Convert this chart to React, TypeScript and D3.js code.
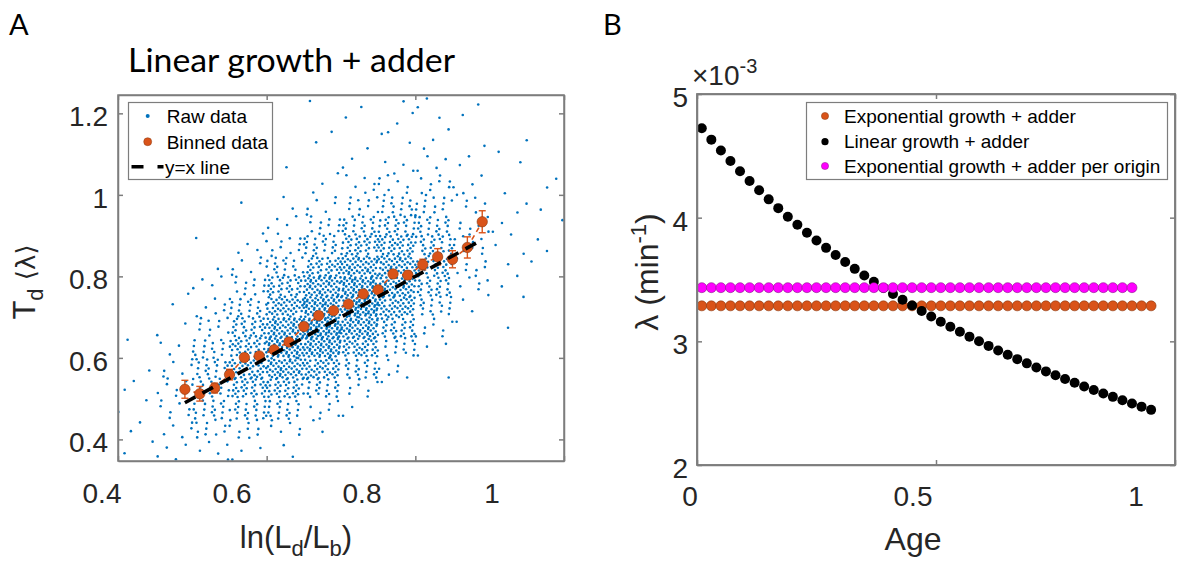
import React, { useMemo, useRef, useEffect } from 'react';
import * as d3 from 'd3';

// ---------------- Panel A data ----------------
// Raw data, read as a density grid: counts of points per 0.05 x 0.05 cell
const rawXBinLow = [0.40, 0.45, 0.50, 0.55, 0.60, 0.65, 0.70, 0.75, 0.80, 0.85, 0.90, 0.95];
const rawYBinLow = [1.20, 1.15, 1.10, 1.05, 1.00, 0.95, 0.90, 0.85, 0.80, 0.75, 0.70, 0.65, 0.60, 0.55, 0.50, 0.45, 0.40, 0.35];
const rawCounts = [
  [0, 0, 0, 0, 0, 1, 1, 2, 2, 1, 0, 0],
  [0, 0, 0, 0, 0, 1, 1, 2, 2, 1, 0, 0],
  [0, 0, 0, 0, 0, 1, 1, 2, 2, 1, 2, 0],
  [0, 0, 0, 0, 1, 1, 2, 4, 4, 2, 1, 0],
  [0, 0, 0, 0, 1, 2, 6, 7, 8, 4, 1, 2],
  [0, 0, 0, 1, 2, 6, 10, 16, 14, 6, 2, 1],
  [0, 0, 0, 1, 5, 12, 22, 27, 21, 8, 3, 1],
  [0, 0, 1, 4, 9, 23, 36, 40, 27, 9, 2, 2],
  [0, 0, 1, 6, 19, 38, 55, 52, 30, 8, 2, 1],
  [0, 1, 4, 12, 33, 57, 68, 54, 26, 6, 1, 0],
  [0, 1, 6, 20, 47, 71, 74, 47, 17, 2, 1, 0],
  [0, 2, 10, 30, 60, 77, 63, 30, 8, 1, 1, 0],
  [1, 3, 16, 39, 64, 65, 42, 15, 3, 0, 0, 0],
  [1, 6, 20, 41, 55, 44, 21, 6, 1, 0, 0, 0],
  [2, 7, 21, 35, 37, 21, 7, 1, 0, 0, 0, 0],
  [2, 7, 18, 22, 18, 7, 2, 0, 0, 0, 0, 0],
  [2, 5, 10, 10, 6, 2, 0, 0, 0, 0, 0, 0],
  [2, 4, 5, 3, 2, 0, 0, 0, 0, 0, 0, 0],
];
const binnedX = [0.49, 0.51, 0.53, 0.55, 0.57, 0.59, 0.61, 0.63, 0.65, 0.67, 0.69, 0.71, 0.73, 0.75, 0.77, 0.79, 0.81, 0.83, 0.85, 0.87, 0.89];
const binnedY = [0.523, 0.512, 0.526, 0.559, 0.601, 0.605, 0.620, 0.639, 0.677, 0.704, 0.716, 0.732, 0.757, 0.767, 0.806, 0.803, 0.829, 0.848, 0.842, 0.871, 0.934];
const binnedErr = [0.022, 0.018, 0.012, 0.013, 0.009, 0.008, 0.008, 0.008, 0.008, 0.008, 0.008, 0.008, 0.009, 0.009, 0.010, 0.010, 0.013, 0.020, 0.021, 0.026, 0.027];
const yxLine = [0.49, 0.89];
const xTicksA = [0.4, 0.6, 0.8, 1.0];
const xTickLabelsA = ['0.4', '0.6', '0.8', '1'];
const yTicksA = [0.4, 0.6, 0.8, 1.0, 1.2];
const yTickLabelsA = ['0.4', '0.6', '0.8', '1', '1.2'];

// ---------------- Panel B data (units of 1e-3 min^-1) ----------------
const ageFull = [0.01, 0.03, 0.05, 0.07, 0.09, 0.11, 0.13, 0.15, 0.17, 0.19, 0.21, 0.23, 0.25, 0.27, 0.29, 0.31, 0.33, 0.35, 0.37, 0.39, 0.41, 0.43, 0.45, 0.47, 0.49, 0.51, 0.53, 0.55, 0.57, 0.59, 0.61, 0.63, 0.65, 0.67, 0.69, 0.71, 0.73, 0.75, 0.77, 0.79, 0.81, 0.83, 0.85, 0.87, 0.89, 0.91, 0.93, 0.95];
const lambdaExp = [3.287, 3.287, 3.287, 3.287, 3.287, 3.287, 3.287, 3.287, 3.287, 3.287, 3.287, 3.287, 3.287, 3.287, 3.287, 3.287, 3.287, 3.287, 3.287, 3.287, 3.287, 3.287, 3.287, 3.287, 3.287, 3.287, 3.287, 3.287, 3.287, 3.287, 3.287, 3.287, 3.287, 3.287, 3.287, 3.287, 3.287, 3.287, 3.287, 3.287, 3.287, 3.287, 3.287, 3.287, 3.287, 3.287, 3.287, 3.287];
const lambdaLinear = [4.723, 4.631, 4.543, 4.458, 4.376, 4.297, 4.221, 4.148, 4.077, 4.008, 3.942, 3.878, 3.816, 3.756, 3.698, 3.641, 3.586, 3.533, 3.482, 3.432, 3.383, 3.336, 3.290, 3.245, 3.201, 3.159, 3.118, 3.077, 3.038, 3.000, 2.963, 2.926, 2.891, 2.856, 2.822, 2.789, 2.757, 2.726, 2.695, 2.665, 2.635, 2.607, 2.578, 2.551, 2.524, 2.497, 2.472, 2.446];
const ageOrigin = [0.01, 0.03, 0.05, 0.07, 0.09, 0.11, 0.13, 0.15, 0.17, 0.19, 0.21, 0.23, 0.25, 0.27, 0.29, 0.31, 0.33, 0.35, 0.37, 0.39, 0.41, 0.43, 0.45, 0.47, 0.49, 0.51, 0.53, 0.55, 0.57, 0.59, 0.61, 0.63, 0.65, 0.67, 0.69, 0.71, 0.73, 0.75, 0.77, 0.79, 0.81, 0.83, 0.85, 0.87, 0.89, 0.91];
const lambdaOrigin = [3.434, 3.434, 3.434, 3.434, 3.434, 3.434, 3.434, 3.434, 3.434, 3.434, 3.434, 3.434, 3.434, 3.434, 3.434, 3.434, 3.434, 3.434, 3.434, 3.434, 3.434, 3.434, 3.434, 3.434, 3.434, 3.434, 3.434, 3.434, 3.434, 3.434, 3.434, 3.434, 3.434, 3.434, 3.434, 3.434, 3.434, 3.434, 3.434, 3.434, 3.434, 3.434, 3.434, 3.434, 3.434, 3.434];
const xTicksB = [0, 0.5, 1];
const xTickLabelsB = ['0', '0.5', '1'];
const yTicksB = [2, 3, 4, 5];
const yTickLabelsB = ['2', '3', '4', '5'];
const legendB = ['Exponential growth + adder', 'Linear growth + adder', 'Exponential growth + adder per origin'];

const FONT = "'Liberation Sans', Arial, Helvetica, sans-serif";
const TFONT = "Lato, 'Open Sans', sans-serif";
const TXT = '#262626';
const AX = '#7d7d7d';
const BLUE = '#0072BD';
const ORANGE = '#D95319';
const ORANGE_EDGE = '#8a3a12';
const MAGENTA = '#FF00FF';
const MAGENTA_EDGE = '#8a1a8a';

function frac(v: number) {
  return v - Math.floor(v);
}

// Panel A scales
const xA = d3.scaleLinear().domain([0.4, 1]).range([118, 564]);
const yA = d3.scaleLinear().domain([0.347, 1.245]).range([461, 95]);
const xLabA = d3.scaleLinear().domain([0.4, 1]).range([102, 492]);
// Panel B scales
const xB = d3.scaleLinear().domain([0, 1]).range([697, 1175]);
const yB = d3.scaleLinear().domain([2, 5]).range([465, 94]);
const xLabB = d3.scaleLinear().domain([0, 1]).range([690, 1136]);

function drawBox(
  g: d3.Selection<SVGGElement, unknown, null, undefined>,
  x: d3.ScaleLinear<number, number>,
  y: d3.ScaleLinear<number, number>,
  xt: number[],
  yt: number[]
) {
  const [x0, x1] = x.range();
  const [yb, ytop] = y.range();
  const style = (sel: d3.Selection<SVGGElement, unknown, null, undefined>) => {
    sel.selectAll('path').attr('stroke', AX).attr('stroke-width', 1.5);
    sel.selectAll('line').attr('stroke', AX).attr('stroke-width', 1.5);
    sel.selectAll('text').remove();
  };
  g.selectAll('*').remove();
  g.append('g').attr('transform', `translate(0,${yb})`).call(d3.axisBottom(x).tickValues(xt).tickSize(-5).tickSizeOuter(0)).call(style);
  g.append('g').attr('transform', `translate(0,${ytop})`).call(d3.axisTop(x).tickValues(xt).tickSize(-5).tickSizeOuter(0)).call(style);
  g.append('g').attr('transform', `translate(${x0},0)`).call(d3.axisLeft(y).tickValues(yt).tickSize(-5).tickSizeOuter(0)).call(style);
  g.append('g').attr('transform', `translate(${x1},0)`).call(d3.axisRight(y).tickValues(yt).tickSize(-5).tickSizeOuter(0)).call(style);
  g.append('rect')
    .attr('x', x0)
    .attr('y', ytop)
    .attr('width', x1 - x0)
    .attr('height', yb - ytop)
    .attr('fill', 'transparent')
    .attr('stroke', AX)
    .attr('stroke-width', 1.5);
}

export default function App() {
  const boxA = useRef<SVGGElement>(null);
  const boxB = useRef<SVGGElement>(null);

  useEffect(() => {
    if (boxA.current) drawBox(d3.select(boxA.current), xA, yA, xTicksA, yTicksA);
    if (boxB.current) drawBox(d3.select(boxB.current), xB, yB, xTicksB, yTicksB);
  }, []);

  const rawPoints = useMemo(() => {
    const pts: [number, number][] = [];
    rawCounts.forEach((row, r) => {
      row.forEach((n, c) => {
        const id = r * 12 + c;
        const su = frac(0.5 + id * 0.3819660113);
        const sv = frac(0.5 + id * 0.7071067812);
        for (let k = 0; k < n; k++) {
          const u = frac(su + (k + 1) * 0.7548776662);
          const v = frac(sv + (k + 1) * 0.5698402910);
          pts.push([rawXBinLow[c] + u * 0.05, rawYBinLow[r] + v * 0.05]);
        }
      });
    });
    return pts;
  }, []);

  const a0 = xA(0.4);
  const a1 = xA(1);
  const aB = yA(0.347);
  const aT = yA(1.245);
  const b0 = xB(0);
  const b1 = xB(1);
  const bB = yB(2);
  const bT = yB(5);

  return (
    <svg
      width={1183}
      height={565}
      style={{ position: 'absolute', left: 0, top: 0, background: '#fff' }}
      fontFamily={FONT}
    >
      <rect x={0} y={0} width={1183} height={565} fill="#fff" />
      <defs>
        <clipPath id="clipA">
          <rect x={a0} y={aT} width={a1 - a0} height={aB - aT} />
        </clipPath>
        <clipPath id="clipB">
          <rect x={b0} y={bT} width={b1 - b0} height={bB - bT} />
        </clipPath>
      </defs>

      {/* ---------- Panel A ---------- */}
      <text x={9} y={35} fontFamily={TFONT} fontSize={29} fill="#000">A</text>
      <text x={291.5} y={72} fontFamily={TFONT} fontSize={33} fill="#000" textAnchor="middle" textLength={327} lengthAdjust="spacingAndGlyphs">
        Linear growth + adder
      </text>

      <g clipPath="url(#clipA)">
        {rawPoints.map((p, i) => (
          <circle key={i} cx={xA(p[0])} cy={yA(p[1])} r={1.3} fill={BLUE} />
        ))}
      </g>

      {/* binned data: dashed connecting line, error bars, markers */}
      {binnedX.slice(1).map((x, i) => (
        <line
          key={'c' + i}
          x1={xA(binnedX[i])}
          y1={yA(binnedY[i])}
          x2={xA(x)}
          y2={yA(binnedY[i + 1])}
          stroke={ORANGE}
          strokeWidth={1.6}
          strokeDasharray="5 4"
        />
      ))}
      {binnedX.map((x, i) => {
        const cx = xA(x);
        const yt = yA(binnedY[i] + binnedErr[i]);
        const yb = yA(binnedY[i] - binnedErr[i]);
        return (
          <g key={'e' + i} stroke={ORANGE} strokeWidth={1.4}>
            <line x1={cx} x2={cx} y1={yt} y2={yb} />
            <line x1={cx - 3.5} x2={cx + 3.5} y1={yt} y2={yt} />
            <line x1={cx - 3.5} x2={cx + 3.5} y1={yb} y2={yb} />
          </g>
        );
      })}
      {binnedX.map((x, i) => (
        <circle key={'b' + i} cx={xA(x)} cy={yA(binnedY[i])} r={5.2} fill={ORANGE} stroke={ORANGE_EDGE} strokeWidth={0.6} />
      ))}
      <line
        x1={xA(yxLine[0])}
        y1={yA(yxLine[0])}
        x2={xA(yxLine[1])}
        y2={yA(yxLine[1])}
        stroke="#000"
        strokeWidth={3.6}
        strokeDasharray="12 8"
      />

      {/* axes A (box + inward ticks via d3.axis) */}
      <g ref={boxA} />
      {xTicksA.map((t, i) => (
        <text key={'xal' + t} x={xLabA(t)} y={503} fontSize={28} fill={TXT} textAnchor="middle">
          {xTickLabelsA[i]}
        </text>
      ))}
      {yTicksA.map((t, i) => (
        <text key={'yal' + t} x={108} y={yA(t) + 13} fontSize={28} fill={TXT} textAnchor="end">
          {yTickLabelsA[i]}
        </text>
      ))}
      <text x={296} y={548} fontSize={31} fill={TXT} textAnchor="middle">
        ln(L<tspan dy={8} fontSize={22}>d</tspan>
        <tspan dy={-8}>/L</tspan>
        <tspan dy={8} fontSize={22}>b</tspan>
        <tspan dy={-8}>)</tspan>
      </text>
      <text transform="translate(35,282) rotate(-90)" fontSize={31} fill={TXT} textAnchor="middle">
        T<tspan dy={8} fontSize={22}>d</tspan>
        <tspan dy={-8} fontFamily="'DejaVu Sans', sans-serif" fontSize={26}> {'\u27E8\u03BB\u27E9'}</tspan>
      </text>

      {/* legend A */}
      <rect x={128.5} y={102.5} width={144} height={77} fill="#fff" stroke={AX} strokeWidth={1.2} />
      <circle cx={147.7} cy={116} r={2} fill={BLUE} />
      <text x={166.7} y={123} fontSize={19} fill="#000">Raw data</text>
      <circle cx={147.7} cy={141.7} r={4} fill={ORANGE} stroke={ORANGE_EDGE} strokeWidth={0.5} />
      <text x={166.7} y={148.5} fontSize={19} fill="#000">Binned data</text>
      <line x1={131.5} x2={163.5} y1={166.7} y2={166.7} stroke="#000" strokeWidth={3.6} strokeDasharray="12 14" />
      <text x={165} y={173.5} fontSize={19} fill="#000">y=x line</text>

      {/* ---------- Panel B ---------- */}
      <text x={603} y={35} fontFamily={TFONT} fontSize={29} fill="#000">B</text>

      <g clipPath="url(#clipB)">
        {ageFull.map((a, i) => (
          <circle key={'o' + i} cx={xB(a)} cy={yB(lambdaExp[i])} r={5} fill={ORANGE} stroke={ORANGE_EDGE} strokeWidth={0.6} />
        ))}
        {ageFull.map((a, i) => (
          <circle key={'k' + i} cx={xB(a)} cy={yB(lambdaLinear[i])} r={5} fill="#000" />
        ))}
        {ageOrigin.map((a, i) => (
          <circle key={'m' + i} cx={xB(a)} cy={yB(lambdaOrigin[i])} r={5} fill={MAGENTA} stroke={MAGENTA_EDGE} strokeWidth={0.6} />
        ))}
      </g>

      {/* axes B: React-drawn box as well as d3 axes */}
      <rect x={b0} y={bT} width={b1 - b0} height={bB - bT} fill="transparent" stroke={AX} strokeWidth={1.5} />
      <g ref={boxB} />
      {xTicksB.map((t, i) => (
        <text key={'xbl' + t} x={xLabB(t)} y={506} fontSize={28} fill={TXT} textAnchor="middle">
          {xTickLabelsB[i]}
        </text>
      ))}
      {yTicksB.map((t, i) => (
        <text key={'ybl' + t} x={688} y={yB(t) + 13} fontSize={28} fill={TXT} textAnchor="end">
          {yTickLabelsB[i]}
        </text>
      ))}
      <text x={692} y={85} fontSize={28} fill={TXT}>
        {'\u00D710'}
        <tspan dy={-12} fontSize={20}>-3</tspan>
      </text>
      <text x={913} y={550} fontSize={32} fill={TXT} textAnchor="middle">Age</text>
      <text transform="translate(658,272) rotate(-90)" fontSize={32} fill={TXT} textAnchor="middle">
        {'\u03BB (min'}
        <tspan dy={-12} fontSize={22}>-1</tspan>
        <tspan dy={12}>)</tspan>
      </text>

      {/* legend B */}
      <rect x={806.5} y={102.5} width={361} height={77} fill="#fff" stroke={AX} strokeWidth={1.2} />
      <circle cx={825} cy={116} r={3.6} fill={ORANGE} stroke={ORANGE_EDGE} strokeWidth={0.5} />
      <circle cx={825} cy={141.7} r={3.6} fill="#000" />
      <circle cx={825} cy={166} r={3.6} fill={MAGENTA} stroke={MAGENTA_EDGE} strokeWidth={0.5} />
      {legendB.map((s, i) => (
        <text key={'lb' + i} x={844} y={122.7 + i * 25} fontSize={19} fill="#000">
          {s}
        </text>
      ))}
    </svg>
  );
}
